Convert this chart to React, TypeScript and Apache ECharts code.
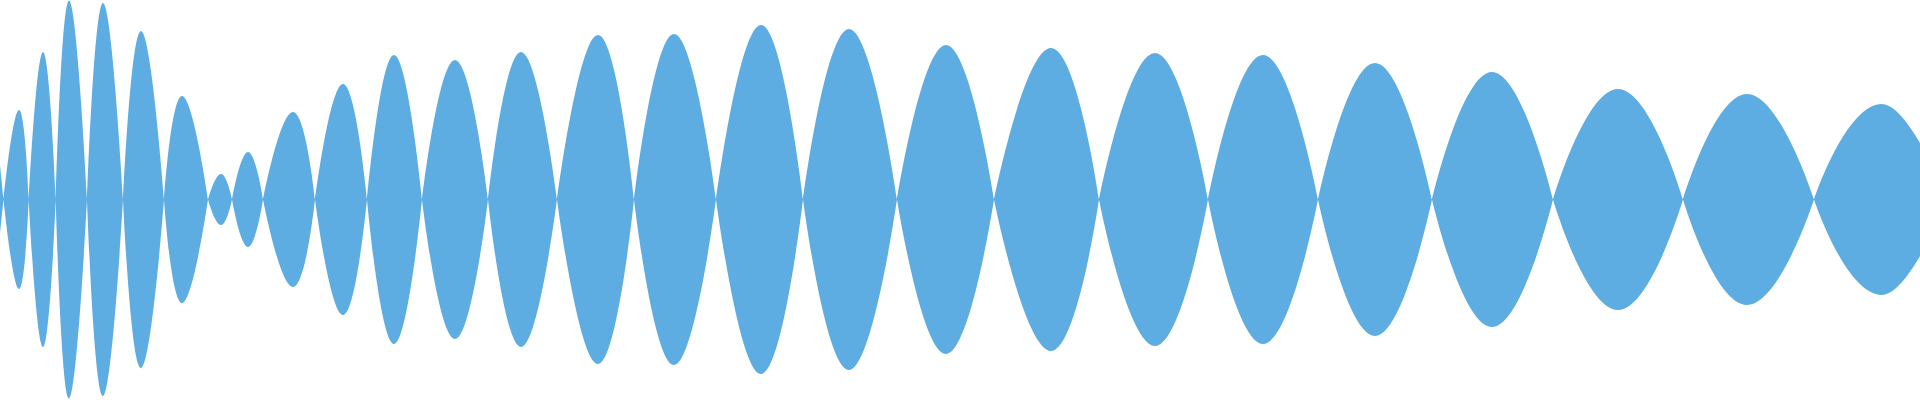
import React, { useEffect, useRef } from "react";
import * as echarts from "echarts";

// Zero crossings of the waveform (time in samples along the x axis)
const crossings = [
  3.5, 28.7, 55.7, 87, 123, 164, 208, 232, 263, 315, 367, 422, 488, 557, 634,
  716, 803, 897, 994, 1099, 1208, 1318, 1432, 1553, 1683, 1814,
];
// Peak position and amplitude of each lobe between two crossings
const peakTimes = [
  19, 43, 69, 103, 141, 182, 221, 248, 293, 343, 394, 455, 521, 598, 674, 761,
  849, 946, 1051, 1155, 1263, 1375, 1492, 1618, 1747,
];
const peakAmps = [
  89.5, 147.5, 199, 196.5, 168.5, 103.5, 25.5, 47.5, 87.5, 115.5, 144.5, 139.5,
  147.5, 164.5, 165.5, 174.5, 170.5, 154.5, 151.5, 146.5, 144.5, 136.5, 127.5,
  110.5, 105.5,
];
// Partial lobe at the very start
const headTimes = [0];
const headAmps = [34.5];
// Last (cut-off) lobe at the end
const tailTimes = [1882, 1920];
const tailAmps = [95.5, 56.5];

const COLOR = "#5dade2";

function buildSegments(): [number, number][][] {
  const segs: [number, number][][] = [];
  const head: [number, number][] = headTimes.map((t, i) => [t, headAmps[i]]);
  head.push([crossings[0], 0]);
  segs.push(head);
  for (let i = 0; i < peakTimes.length; i++) {
    segs.push([
      [crossings[i], 0],
      [peakTimes[i], peakAmps[i]],
      [crossings[i + 1], 0],
    ]);
  }
  const tail: [number, number][] = [[crossings[crossings.length - 1], 0]];
  tailTimes.forEach((t, i) => tail.push([t, tailAmps[i]]));
  segs.push(tail);
  return segs;
}

function flatten(segs: [number, number][][], sign: number) {
  const out: any[] = [];
  segs.forEach((seg, si) => {
    if (si > 0) out.push([seg[0][0], "-"]);
    seg.forEach(([t, a]) => out.push([t, sign * a]));
  });
  return out;
}

export default function App() {
  const ref = useRef<HTMLDivElement>(null);
  useEffect(() => {
    if (!ref.current) return;
    const chart = echarts.init(ref.current, undefined, { renderer: "svg" });
    const segs = buildSegments();
    const common = {
      type: "line" as const,
      smooth: 0.5,
      showSymbol: false,
      symbol: "none",
      connectNulls: false,
      silent: true,
      lineStyle: { width: 0, color: COLOR },
      areaStyle: { color: COLOR, opacity: 1 },
      emphasis: { disabled: true },
    };
    const start = headTimes[0];
    const end = tailTimes[tailTimes.length - 1];
    chart.setOption({
      animation: false,
      backgroundColor: "#ffffff",
      grid: { left: 0, right: 0, top: 0, bottom: 0, containLabel: false },
      xAxis: { type: "value", min: 0, max: 1920, show: false },
      yAxis: { type: "value", min: -200.5, max: 199.5, show: false },
      series: [
        { ...common, data: flatten(segs, 1) },
        { ...common, data: flatten(segs, -1) },
        {
          type: "line",
          data: [
            [start, 0],
            [end, 0],
          ],
          showSymbol: false,
          symbol: "none",
          silent: true,
          lineStyle: { width: 1.2, color: COLOR },
          emphasis: { disabled: true },
        },
      ],
    });
    return () => chart.dispose();
  }, []);
  return (
    <div
      ref={ref}
      style={{ position: "absolute", left: 0, top: 0, width: 1920, height: 400 }}
    />
  );
}
